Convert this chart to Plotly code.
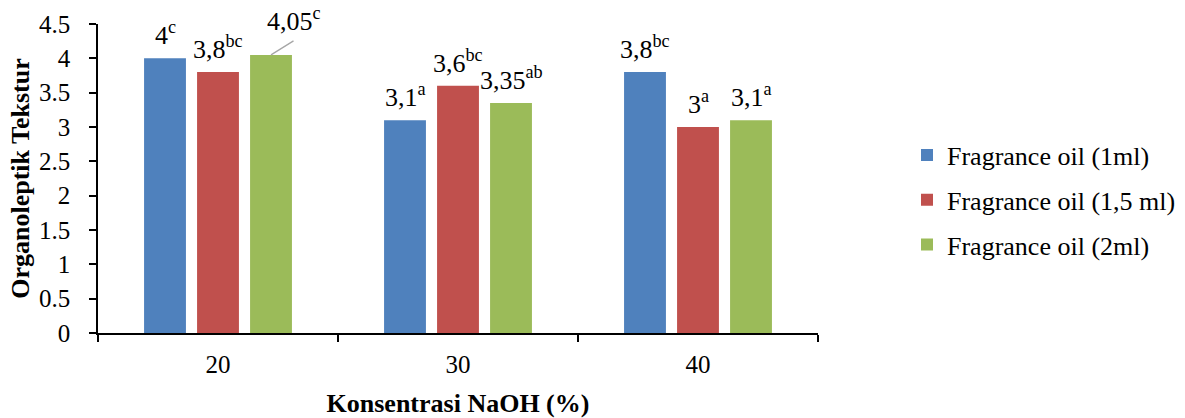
import plotly.graph_objects as go

categories = ["20", "30", "40"]
series_names = ["Fragrance oil (1ml)", "Fragrance oil (1,5 ml)", "Fragrance oil (2ml)"]
values_1ml = [4.0, 3.1, 3.8]
values_15ml = [3.8, 3.6, 3.0]
values_2ml = [4.05, 3.35, 3.1]
labels_1ml = ["4", "3,1", "3,8"]
labels_15ml = ["3,8", "3,6", "3"]
labels_2ml = ["4,05", "3,35", "3,1"]
letters_1ml = ["c", "a", "bc"]
letters_15ml = ["bc", "bc", "a"]
letters_2ml = ["c", "ab", "a"]
colors = ["#4F81BD", "#C0504D", "#9BBB59"]

FONT = "Liberation Serif"
W, H = 1185, 418
ML, MR, MT, MB = 98, 367, 24, 85
BARGAP, GROUPGAP = 0.3375, 0.21

fig = go.Figure()
all_vals = [values_1ml, values_15ml, values_2ml]
all_labels = [labels_1ml, labels_15ml, labels_2ml]
all_letters = [letters_1ml, letters_15ml, letters_2ml]

for i in range(3):
    fig.add_trace(go.Bar(
        x=categories, y=all_vals[i], name=series_names[i],
        marker=dict(color=colors[i], line=dict(width=0)),
        legendgroup=f"g{i}", hoverinfo="skip",
    ))

# slot width of each bar in pixels (from axis geometry) for label placement
cat_px = (W - ML - MR) / len(categories)
slot_px = cat_px * (1 - BARGAP) / 3

for i in range(3):
    for j, cat in enumerate(categories):
        txt = f"{all_labels[i][j]}<sup>{all_letters[i][j]}</sup>"
        xs = (i - 1) * slot_px
        if i == 2 and j == 0:
            fig.add_annotation(x=j, y=all_vals[i][j], xref="x", yref="y", text="",
                               showarrow=True, arrowhead=0, arrowwidth=1.3, arrowcolor="#A6A6A6",
                               ax=24, ay=-15, xshift=xs, standoff=0)
            fig.add_annotation(x=j, y=all_vals[i][j], xref="x", yref="y", text=txt,
                               showarrow=False, xanchor="center", yanchor="bottom",
                               xshift=xs + 23, yshift=17,
                               font=dict(family=FONT, size=26, color="black"))
        else:
            fig.add_annotation(x=j, y=all_vals[i][j], xref="x", yref="y", text=txt,
                               showarrow=False, xanchor="center", yanchor="bottom",
                               xshift=xs, yshift=6,
                               font=dict(family=FONT, size=26, color="black"))

fig.update_layout(
    width=W, height=H,
    margin=dict(l=ML, r=MR, t=MT, b=MB, autoexpand=False),
    paper_bgcolor="white", plot_bgcolor="white",
    barmode="group", bargap=BARGAP, bargroupgap=GROUPGAP,
    font=dict(family=FONT, size=25, color="black"),
    showlegend=True,
    legend=dict(xref="container", yref="container", x=0.7654, y=0.5215,
                xanchor="left", yanchor="middle",
                font=dict(family=FONT, size=26, color="black"),
                tracegroupgap=8, itemwidth=30),
)
fig.update_xaxes(
    type="category", range=[-0.5, 2.5], showline=True, linecolor="black", linewidth=1.5,
    ticks="outside", tickson="boundaries", ticklen=7, tickcolor="black", tickwidth=1.5,
    tickfont=dict(family=FONT, size=25), ticklabelstandoff=8, tickangle=0, automargin=False,
    title=dict(text="<b>Konsentrasi NaOH (%)</b>", font=dict(family=FONT, size=26), standoff=18),
    showgrid=False, zeroline=False,
)
fig.update_yaxes(
    range=[0, 4.5], dtick=0.5, showline=True, linecolor="black", linewidth=1.5,
    ticks="outside", ticklen=7, tickcolor="black", tickwidth=1.5, automargin=False,
    tickfont=dict(family=FONT, size=25), ticklabelstandoff=14,
    title=dict(text="<b>Organoleptik Tekstur</b>", font=dict(family=FONT, size=26), standoff=2),
    showgrid=False, zeroline=False,
)

fig.write_html("out.html")
